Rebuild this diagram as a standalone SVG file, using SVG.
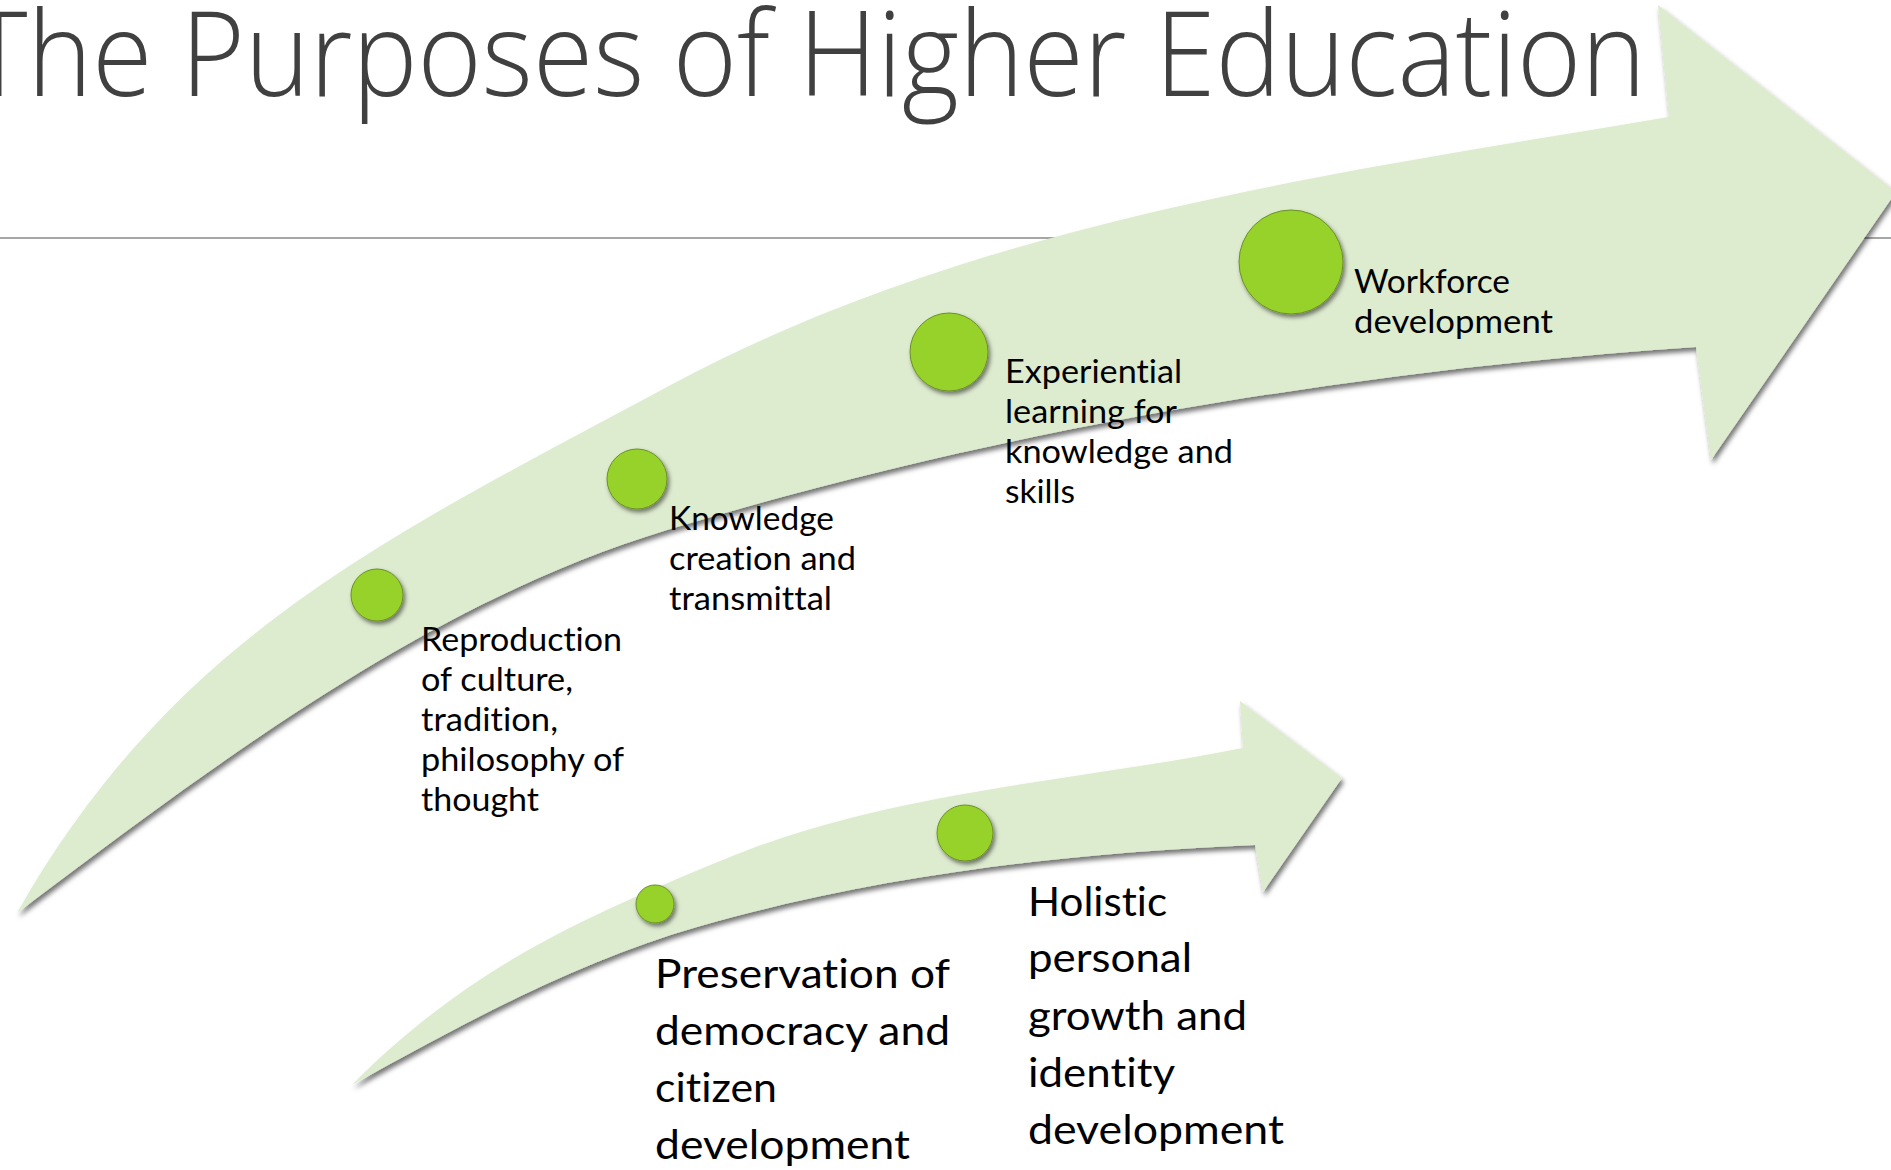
<svg xmlns="http://www.w3.org/2000/svg" width="1891" height="1170" viewBox="0 0 1891 1170">
  <defs>
    <filter id="arrowShadow" x="-5%" y="-5%" width="115%" height="120%">
      <feDropShadow dx="2" dy="4" stdDeviation="2.5" flood-color="#000" flood-opacity="0.55"/>
    </filter>
    <filter id="dotShadow" x="-30%" y="-30%" width="170%" height="170%">
      <feDropShadow dx="2" dy="3" stdDeviation="2" flood-color="#000" flood-opacity="0.5"/>
    </filter>
    <style>
      .arrow { fill: #ddebcf; filter: url(#arrowShadow); }
      .dot { fill: #97d22a; stroke: #6b8f2a; stroke-width: 1; filter: url(#dotShadow); }
      .lbl { font-family: Lato, "Liberation Sans", sans-serif; font-size: 32px; fill: #000; font-variant-ligatures: none; }
      .lbl-lg { font-family: Lato, "Liberation Sans", sans-serif; font-size: 41px; fill: #000; font-variant-ligatures: none; }
      .title { font-family: "Open Sans", "Liberation Sans", sans-serif; font-weight: 300; font-size: 118px; fill: #404040; font-variant-ligatures: none; }
    </style>
  </defs>
  <rect width="1891" height="1170" fill="#ffffff"/>

  <g id="title-block">
    <line x1="0" y1="238" x2="1891" y2="238" stroke="#a6a6a6" stroke-width="2"/>
    <text class="title" x="-30" y="96" textLength="1676" lengthAdjust="spacingAndGlyphs">The Purposes of Higher Education</text>
  </g>

  <g id="connectors">
    <path id="big-arrow" class="arrow" d="M17,913 C175,635 385,539 667,387 C971,223 1328,174 1669,117 L1658,5 L1896,192 L1711,460 L1696,347 C1349,371 1000,429 667,530 C427,603 218,762 17,913 Z"/>
    <path id="small-arrow" class="arrow" d="M352,1085 C471,964 594,913 730,857 C892,791 1072,782 1243,748 L1240,701 L1342,778 L1263,892 L1255,845 C1067,853 878,875 697,927 C576,962 462,1024 352,1085 Z"/>
  </g>

  <g id="node-reproduction">
    <circle class="dot" cx="377" cy="595" r="26"/>
    <text class="lbl" x="421" y="651" textLength="201" lengthAdjust="spacingAndGlyphs">Reproduction</text>
    <text class="lbl" x="421" y="691" textLength="152" lengthAdjust="spacingAndGlyphs">of culture,</text>
    <text class="lbl" x="421" y="731" textLength="137" lengthAdjust="spacingAndGlyphs">tradition,</text>
    <text class="lbl" x="421" y="771" textLength="203" lengthAdjust="spacingAndGlyphs">philosophy of</text>
    <text class="lbl" x="421" y="811" textLength="118" lengthAdjust="spacingAndGlyphs">thought</text>
  </g>

  <g id="node-knowledge">
    <circle class="dot" cx="637" cy="479" r="30"/>
    <text class="lbl" x="669" y="530" textLength="165" lengthAdjust="spacingAndGlyphs">Knowledge</text>
    <text class="lbl" x="669" y="570" textLength="187" lengthAdjust="spacingAndGlyphs">creation and</text>
    <text class="lbl" x="669" y="610" textLength="163" lengthAdjust="spacingAndGlyphs">transmittal</text>
  </g>

  <g id="node-experiential">
    <circle class="dot" cx="949" cy="352" r="39"/>
    <text class="lbl" x="1005" y="383" textLength="177" lengthAdjust="spacingAndGlyphs">Experiential</text>
    <text class="lbl" x="1005" y="423" textLength="172" lengthAdjust="spacingAndGlyphs">learning for</text>
    <text class="lbl" x="1005" y="463" textLength="228" lengthAdjust="spacingAndGlyphs">knowledge and</text>
    <text class="lbl" x="1005" y="503" textLength="70" lengthAdjust="spacingAndGlyphs">skills</text>
  </g>

  <g id="node-workforce">
    <circle class="dot" cx="1291" cy="262" r="52"/>
    <text class="lbl" x="1354" y="293" textLength="156" lengthAdjust="spacingAndGlyphs">Workforce</text>
    <text class="lbl" x="1354" y="333" textLength="199" lengthAdjust="spacingAndGlyphs">development</text>
  </g>

  <g id="node-preservation">
    <circle class="dot" cx="655" cy="904" r="19"/>
    <text class="lbl-lg" x="655" y="988" textLength="295" lengthAdjust="spacingAndGlyphs">Preservation of</text>
    <text class="lbl-lg" x="655" y="1045" textLength="295" lengthAdjust="spacingAndGlyphs">democracy and</text>
    <text class="lbl-lg" x="655" y="1102" textLength="122" lengthAdjust="spacingAndGlyphs">citizen</text>
    <text class="lbl-lg" x="655" y="1159" textLength="255" lengthAdjust="spacingAndGlyphs">development</text>
  </g>

  <g id="node-holistic">
    <circle class="dot" cx="965" cy="833" r="28"/>
    <text class="lbl-lg" x="1028" y="916" textLength="139" lengthAdjust="spacingAndGlyphs">Holistic</text>
    <text class="lbl-lg" x="1028" y="972" textLength="164" lengthAdjust="spacingAndGlyphs">personal</text>
    <text class="lbl-lg" x="1028" y="1030" textLength="219" lengthAdjust="spacingAndGlyphs">growth and</text>
    <text class="lbl-lg" x="1028" y="1087" textLength="147" lengthAdjust="spacingAndGlyphs">identity</text>
    <text class="lbl-lg" x="1028" y="1144" textLength="256" lengthAdjust="spacingAndGlyphs">development</text>
  </g>
</svg>
